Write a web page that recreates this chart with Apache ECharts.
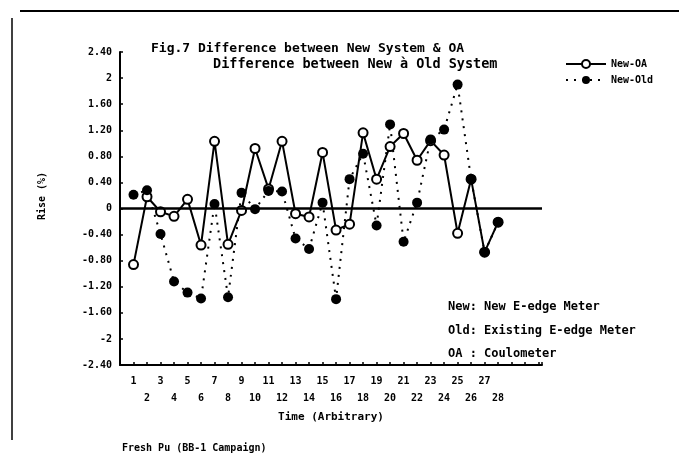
<!DOCTYPE html>
<html>
<head>
<meta charset="utf-8">
<script src="https://cdn.jsdelivr.net/npm/echarts@6/dist/echarts.min.js"></script>
<style>
html,body{margin:0;padding:0;background:#fff;}
#chart{width:679px;height:454px;}
</style>
</head>
<body>
<div id="chart"></div>
<script>
// Data
const timePoints = [1,2,3,4,5,6,7,8,9,10,11,12,13,14,15,16,17,18,19,20,21,22,23,24,25,26,27,28];
const newMinusOA = [-0.86,0.18,-0.05,-0.12,0.14,-0.56,1.03,-0.55,-0.03,0.92,0.30,1.03,-0.08,-0.13,0.86,-0.33,-0.24,1.16,0.45,0.95,1.15,0.74,1.04,0.82,-0.38,0.45,-0.67,-0.21];
const newMinusOld = [0.21,0.28,-0.39,-1.12,-1.29,-1.38,0.07,-1.36,0.24,-0.01,0.27,0.26,-0.46,-0.62,0.09,-1.39,0.45,0.84,-0.26,1.29,-0.51,0.09,1.06,1.21,1.90,0.45,-0.67,-0.21];
const seriesNames = ['New-OA','New-Old'];
const titleLines = ['Fig.7 Difference between New System & OA','Difference between New à Old System'];
const notes = ['New: New E-edge Meter','Old: Existing E-edge Meter','OA : Coulometer'];
const xAxisName = 'Time (Arbitrary)';
const yAxisName = 'Rise (%)';
const footer = 'Fresh Pu (BB-1 Campaign)';

const FONT = '"DejaVu Sans Mono", monospace';
const pairs = a => timePoints.map((t,i)=>[t,a[i]]);

const chart = echarts.init(document.getElementById('chart'));
chart.setOption({
  animation:false,
  backgroundColor:'#fff',
  textStyle:{fontFamily:FONT,fontWeight:'bold',color:'#000'},
  title:[
    {text:titleLines[0],left:146,top:37,textStyle:{fontFamily:FONT,fontWeight:'bold',fontSize:13,color:'#000'}},
    {text:titleLines[1],left:208,top:52,textStyle:{fontFamily:FONT,fontWeight:'bold',fontSize:13.5,color:'#000'}}
  ],
  legend:{
    left:560,top:54,orient:'vertical',itemWidth:40,itemHeight:10,itemGap:6,
    textStyle:{fontFamily:FONT,fontWeight:'bold',fontSize:10,color:'#000'},
    data:seriesNames
  },
  grid:{left:120,right:137,top:52,bottom:89},
  xAxis:{
    type:'value',min:0,max:31.25,interval:1,
    name:xAxisName,nameLocation:'middle',nameGap:46,
    nameTextStyle:{fontFamily:FONT,fontWeight:'bold',fontSize:11,color:'#000'},
    axisLine:{onZero:false,lineStyle:{color:'#000',width:2}},
    axisTick:{inside:true,length:3,lineStyle:{color:'#000',width:1.5}},
    splitLine:{show:false},
    axisLabel:{
      margin:8,fontFamily:FONT,fontWeight:'bold',fontSize:10,color:'#000',lineHeight:17,
      formatter:v=>{ if(v<1||v>28||v!==Math.round(v)) return ''; return v%2===1? String(v) : '\n'+v; }
    }
  },
  yAxis:{
    type:'value',min:-2.4,max:2.4,interval:0.4,
    axisLine:{lineStyle:{color:'#000',width:2}},
    axisTick:{inside:true,length:3,lineStyle:{color:'#000',width:1.5}},
    splitLine:{show:false},
    axisLabel:{
      margin:8,fontFamily:FONT,fontWeight:'bold',fontSize:10,color:'#000',
      formatter:v=>{ const r=Math.round(v*100)/100; return Number.isInteger(r)? String(r) : r.toFixed(2); }
    }
  },
  graphic:[
    {type:'line',shape:{x1:20,y1:11,x2:679,y2:11},style:{stroke:'#000',lineWidth:2}},
    {type:'line',shape:{x1:12,y1:18,x2:12,y2:440},style:{stroke:'#000',lineWidth:1.5}},
    {type:'text',x:42,y:196,rotation:Math.PI/2,style:{text:yAxisName,fill:'#000',font:'bold 10px '+FONT,align:'center',verticalAlign:'middle'}},
    {type:'text',x:448,y:307,style:{text:notes[0],fill:'#000',font:'bold 12px '+FONT,verticalAlign:'middle'}},
    {type:'text',x:448,y:331,style:{text:notes[1],fill:'#000',font:'bold 12px '+FONT,verticalAlign:'middle'}},
    {type:'text',x:448,y:354,style:{text:notes[2],fill:'#000',font:'bold 12px '+FONT,verticalAlign:'middle'}},
    {type:'text',x:122,y:448,style:{text:footer,fill:'#000',font:'bold 10px '+FONT,verticalAlign:'middle'}}
  ],
  series:[
    {
      name:seriesNames[0],type:'line',data:pairs(newMinusOA),
      symbol:'circle',symbolSize:9,showAllSymbol:true,
      lineStyle:{color:'#000',width:2,type:'solid'},
      itemStyle:{color:'#fff',borderColor:'#000',borderWidth:2},
      markLine:{silent:true,symbol:'none',label:{show:false},
        lineStyle:{color:'#000',width:2.5,type:'solid'},data:[{yAxis:0}]}
    },
    {
      name:seriesNames[1],type:'line',data:pairs(newMinusOld),
      symbol:'circle',symbolSize:10,showAllSymbol:true,
      lineStyle:{color:'#000',width:2,type:[2,6]},
      itemStyle:{color:'#000',borderColor:'#000',borderWidth:0}
    }
  ]
});
</script>
</body>
</html>
